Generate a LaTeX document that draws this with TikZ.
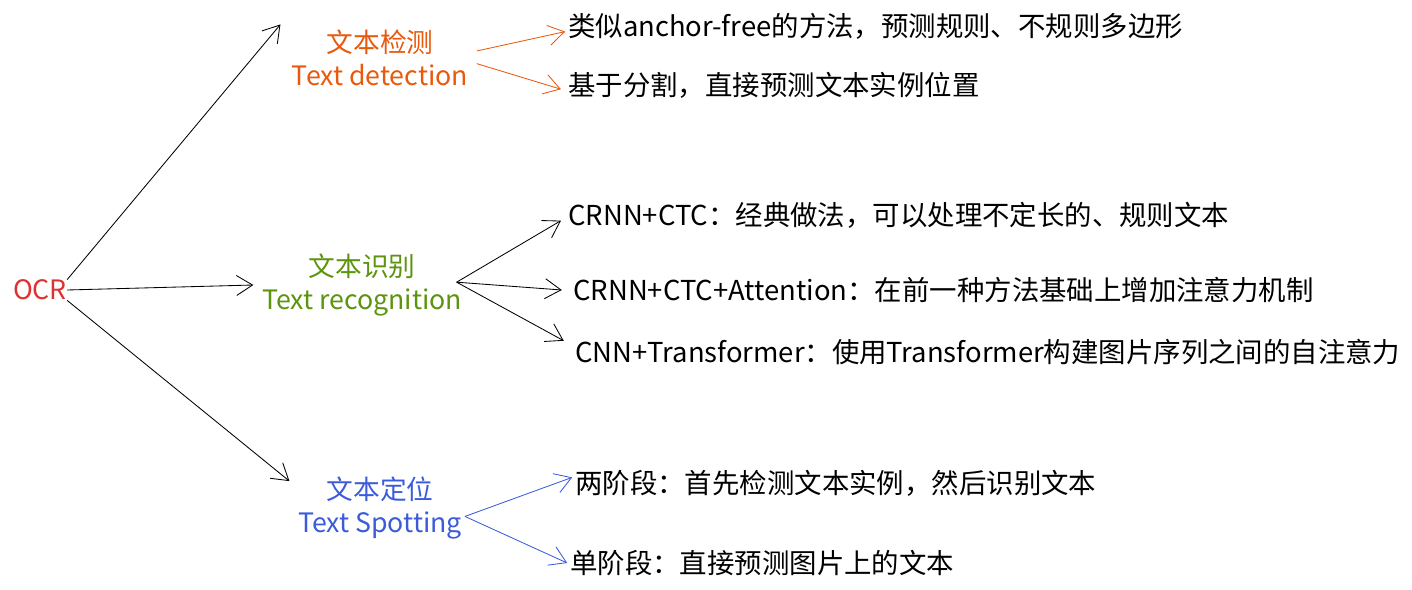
\documentclass[tikz,border=0pt]{standalone}
\usepackage{fontspec}
\setmainfont{Noto Sans CJK SC}
\usepackage{tikz}
\usetikzlibrary{arrows.meta,positioning}
\definecolor{detc}{HTML}{E8590C}
\definecolor{recc}{HTML}{5C940D}
\definecolor{spotc}{HTML}{3B5BDB}
\definecolor{ocrc}{HTML}{E03131}

\begin{document}
\begin{tikzpicture}[
		x=0.025cm, y=-0.025cm,
		head/.style={align=center, inner sep=0pt, font=\fontsize{19}{23}\selectfont},
		leaf/.style={anchor=west, inner sep=0pt, font=\fontsize{19.5}{24}\selectfont},
		link/.style={-{Straight Barb[length=4mm,width=5mm]}, line width=0.6pt},
		]
		\useasboundingbox (0,0) rectangle (1412,590);
		
		% main topics
		\node[head, text=ocrc] (ocr) at (40,290) {OCR};
		\node[head, text=detc] (det) at (380,58) {文本检测\\Text detection};
		\node[head, text=recc] (rec) at (362,285) {文本识别\\Text recognition};
		\node[head, text=spotc] (spot) at (380,508) {文本定位\\Text Spotting};
		
		% leaves
		\node[leaf] (d1) at (568,26) {类似anchor-free的方法，预测规则、不规则多边形};
		\node[leaf] (d2) at (568,85) {基于分割，直接预测文本实例位置};
		\node[leaf] (r1) at (568,215) {CRNN+CTC：经典做法，可以处理不定长的、规则文本};
		\node[leaf] (r2) at (573,290) {CRNN+CTC+Attention：在前一种方法基础上增加注意力机制};
		\node[leaf] (r3) at (575,352) {CNN+Transformer：使用Transformer构建图片序列之间的自注意力};
		\node[leaf] (s1) at (575,483) {两阶段：首先检测文本实例，然后识别文本};
		\node[leaf] (s2) at (570,563) {单阶段：直接预测图片上的文本};
		
		% arrows from OCR
		\draw[link] (ocr.north east) -- ([xshift=-8pt,yshift=4pt]det.north west);
		\draw[link] (ocr.east) -- ([xshift=-6pt]rec.west);
		\draw[link] (ocr.south east) -- ([xshift=-6pt,yshift=-3pt]spot.north west);
		
		% arrows to leaves
		\draw[link, detc] ([xshift=6pt,yshift=5pt]det.east) -- ([xshift=-2pt,yshift=-4pt]d1.west);
		\draw[link, detc] ([xshift=6pt,yshift=-4pt]det.east) -- ([xshift=-5pt,yshift=-3pt]d2.west);
		\draw[link] ([xshift=-4pt,yshift=2pt]rec.east) -- ([xshift=-5pt,yshift=-4pt]r1.west);
		\draw[link] ([xshift=-4pt,yshift=2pt]rec.east) -- ([xshift=-8pt]r2.west);
		\draw[link] ([xshift=-4pt,yshift=2pt]rec.east) -- ([xshift=-8pt,yshift=8pt]r3.west);
		\draw[link, spotc] ([xshift=2pt,yshift=-6pt]spot.east) -- ([xshift=-2pt,yshift=4pt]s1.west);
		\draw[link, spotc] ([xshift=2pt,yshift=-6pt]spot.east) -- ([xshift=-2pt]s2.west);
	\end{tikzpicture}
\end{document}
